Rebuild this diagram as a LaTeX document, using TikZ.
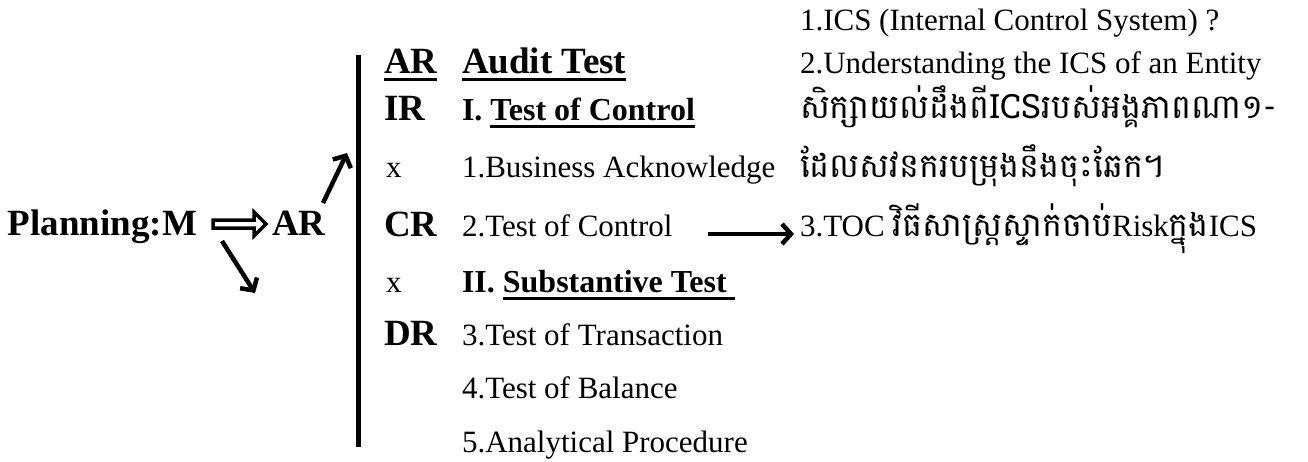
\documentclass[tikz,border=0pt]{standalone}
\usepackage{fontspec}
\setmainfont{Liberation Serif}
\newfontfamily\khmer[Script=Khmer]{Battambang}
\usetikzlibrary{arrows.meta,calc}
\newsavebox\myulbox
\newcommand\myul[1]{\sbox\myulbox{#1}\rlap{\rule[-8pt]{\wd\myulbox}{3.5pt}}\usebox\myulbox}
\tikzset{
  txt/.style={inner sep=0pt, outer sep=0pt, anchor=base west, font=\fontsize{31}{31}\selectfont},
  big/.style={txt, font=\fontsize{37}{37}\selectfont\bfseries},
  head/.style={txt, font=\fontsize{32}{32}\selectfont\bfseries},
  kh/.style={txt, font=\fontsize{33.5}{33.5}\selectfont},
  arr/.style={line width=4.5pt, -{Straight Barb[length=9pt,width=20pt]}},
}
\begin{document}
\begin{tikzpicture}[x=1pt,y=-1pt]
\useasboundingbox[fill=white] (0,0) rectangle (1308,461);
% left part
\node[big] (plan) at (8,235) {Planning:M};
\node[big] (ar) at (272,235) {AR};
\coordinate (dblstart) at (213,224);
\coordinate (dbltip) at (266,224);
\filldraw[fill=white, draw=black, line width=3.5pt, line join=miter]
  ($(dblstart)+(0,-4)$) -- ($(dbltip)+(-12,-4)$) -- ($(dbltip)+(-12,-12)$) -- (dbltip)
  -- ($(dbltip)+(-12,12)$) -- ($(dbltip)+(-12,4)$) -- ($(dblstart)+(0,4)$) -- cycle;
\coordinate (upstart) at (323,203);
\coordinate (up) at (347,153);
\coordinate (downstart) at (222,241);
\coordinate (down) at (255,293);
\draw[arr] (upstart) -- (up);
\draw[arr] (downstart) -- (down);
% vertical bar
\coordinate (vtop) at (358,55);
\coordinate (vbot) at (358,447);
\draw[line width=5pt] (vtop) -- (vbot);
% left labels
\node[big] (l1) at (384,73) {\myul{AR}};
\node[big] (l2) at (384,120) {IR};
\node[txt] (l3) at (386,177) {x};
\node[big] (l4) at (384,236) {CR};
\node[txt] (l5) at (386,292) {x};
\node[big] (l6) at (384,345) {DR};
% middle column
\node[big] (m1) at (462,73) {\myul{Audit Test}};
\node[head] (m2) at (462,120) {I. \myul{Test of Control}};
\node[txt] (m3) at (462,177) {1.Business Acknowledge};
\node[txt] (m4) at (462,236) {2.Test of Control};
\node[head] (m5) at (462,292) {II. \myul{Substantive Test }};
\node[txt] (m6) at (462,345) {3.Test of Transaction};
\node[txt] (m7) at (462,398) {4.Test of Balance};
\node[txt] (m8) at (462,452) {5.Analytical Procedure};
% right column
\node[txt] (r1) at (800,30) {1.ICS (Internal Control System) ?};
\node[txt] (r2) at (800,73) {2.Understanding the ICS of an Entity};
\node[kh] (r3) at (800,118) {\khmer សិក្សាយល់ដឹងពីICSរបស់អង្គភាពណា១-};
\node[kh] (r4) at (800,177) {\khmer ដែលសវនករបម្រុងនឹងចុះឆែក។};
\node[txt] (r5) at (800,236) {3.TOC {\khmer\fontsize{33.5}{33.5}\selectfont វិធីសាស្រ្តស្ទាក់ចាប់}Risk{\khmer\fontsize{33.5}{33.5}\selectfont ក្នុង}ICS};
\draw[arr, shorten <=35pt, shorten >=6pt] ([yshift=2pt]m4.base east) -- ([yshift=2pt]r5.base west);
\end{tikzpicture}
\end{document}
